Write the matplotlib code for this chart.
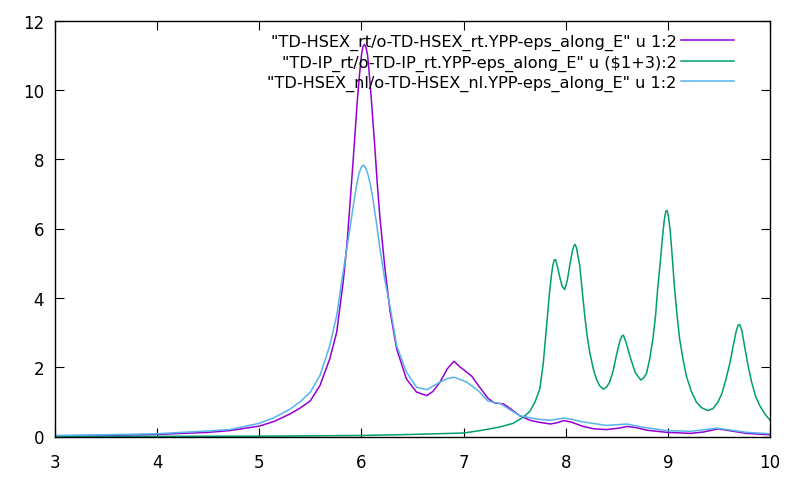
import matplotlib
matplotlib.use("Agg")
import matplotlib.pyplot as plt

# values
hsex_rt_x = [3.0, 3.5, 4.0, 4.5, 4.71, 5.0, 5.15, 5.3, 5.4, 5.5, 5.594, 5.69, 5.758, 5.823, 5.86,
             5.89, 5.915, 5.94, 5.96, 5.98, 6.0, 6.015, 6.03, 6.045, 6.06, 6.07, 6.09, 6.11, 6.13,
             6.155, 6.18, 6.23, 6.28, 6.345, 6.44, 6.54, 6.64, 6.70, 6.77, 6.84, 6.906, 6.96,
             7.03, 7.08, 7.145, 7.24, 7.30, 7.39, 7.46, 7.55, 7.65, 7.72, 7.85, 7.92, 7.98, 8.05,
             8.17, 8.28, 8.40, 8.52, 8.60, 8.68, 8.80, 8.99, 9.22, 9.35, 9.49, 9.60, 9.77, 10.0]
hsex_rt_y = [0.02, 0.03, 0.06, 0.12, 0.17, 0.30, 0.44, 0.65, 0.82, 1.03, 1.47, 2.24, 3.01, 4.5, 5.6,
             6.8, 7.8, 8.85, 9.7, 10.4, 11.0, 11.25, 11.31, 11.22, 11.0, 10.7, 10.0, 9.2, 8.4,
             7.3, 6.35, 4.85, 3.62, 2.53, 1.66, 1.28, 1.18, 1.3, 1.57, 1.95, 2.17, 2.02,
             1.86, 1.74, 1.47, 1.1, 0.97, 0.94, 0.8, 0.6, 0.47, 0.42, 0.36, 0.40, 0.46, 0.42,
             0.29, 0.22, 0.2, 0.24, 0.29, 0.26, 0.18, 0.12, 0.09, 0.13, 0.22, 0.17, 0.09, 0.05]

ip_rt_x = [3.0, 4.0, 5.0, 5.5, 6.0, 6.5, 7.0, 7.16, 7.35, 7.485, 7.58, 7.648, 7.70, 7.746, 7.78,
           7.81, 7.84, 7.86, 7.875, 7.888, 7.9, 7.915, 7.94, 7.965, 7.99, 8.015, 8.04, 8.065,
           8.08, 8.092, 8.105, 8.12, 8.137, 8.16, 8.186, 8.21, 8.235, 8.27, 8.30, 8.33, 8.365,
           8.40, 8.43, 8.465, 8.496, 8.53, 8.55, 8.565, 8.59, 8.626, 8.68, 8.734, 8.76, 8.79,
           8.82, 8.854, 8.88, 8.90, 8.925, 8.946, 8.965, 8.98, 8.993, 9.006, 9.024, 9.045,
           9.066, 9.09, 9.115, 9.15, 9.18, 9.23, 9.28, 9.33, 9.39, 9.44, 9.49, 9.53, 9.57, 9.61,
           9.64, 9.67, 9.69, 9.705, 9.725, 9.75, 9.785, 9.82, 9.86, 9.90, 9.95, 10.0]
ip_rt_y = [0.0, 0.005, 0.01, 0.02, 0.03, 0.06, 0.1, 0.17, 0.27, 0.38, 0.55, 0.72, 1.0, 1.37, 2.1,
           3.1, 4.1, 4.65, 4.95, 5.1, 5.1, 4.95, 4.62, 4.33, 4.24, 4.5, 4.94, 5.35,
           5.5, 5.54, 5.45, 5.2, 4.94, 4.25, 3.49, 2.9, 2.43, 1.95, 1.66, 1.47, 1.37,
           1.42, 1.57, 1.9, 2.34, 2.75, 2.9, 2.92, 2.72, 2.34, 1.85, 1.63, 1.68, 1.81,
           2.2, 2.82, 3.5, 4.26, 5.0, 5.71, 6.25, 6.5, 6.52, 6.35, 5.90, 5.1,
           4.26, 3.5, 2.82, 2.2, 1.76, 1.3, 0.99, 0.83, 0.75, 0.80, 0.99, 1.25, 1.66, 2.15,
           2.62, 3.05, 3.22, 3.22, 3.05, 2.62, 2.05, 1.57, 1.15, 0.89, 0.65, 0.47]

hsex_nl_x = [3.0, 3.5, 4.0, 4.5, 4.71, 5.0, 5.15, 5.3, 5.4, 5.5, 5.594, 5.69, 5.758, 5.806, 5.85,
             5.89, 5.92, 5.95, 5.975, 6.0, 6.02, 6.04, 6.065, 6.085, 6.11, 6.15, 6.18, 6.23, 6.28,
             6.345, 6.44, 6.54, 6.64, 6.70, 6.77, 6.84, 6.906, 6.97, 7.03, 7.145, 7.24, 7.36,
             7.45, 7.55, 7.72, 7.85, 7.98, 8.05, 8.17, 8.40, 8.60, 8.75, 8.99, 9.22, 9.48, 9.65,
             9.77, 10.0]
hsex_nl_y = [0.03, 0.05, 0.08, 0.16, 0.2, 0.38, 0.55, 0.79, 1.0, 1.28, 1.76, 2.62, 3.49, 4.45, 5.3,
             6.05, 6.65, 7.2, 7.58, 7.78, 7.83, 7.76, 7.55, 7.3, 6.9, 6.1, 5.45, 4.5, 3.75,
             2.62, 1.86, 1.42, 1.35, 1.45, 1.57, 1.67, 1.71, 1.64, 1.57, 1.32, 1.02, 0.95,
             0.78, 0.60, 0.50, 0.47, 0.53, 0.50, 0.42, 0.32, 0.36, 0.27, 0.17, 0.15, 0.24, 0.17,
             0.12, 0.08]

labels = ['"TD-HSEX_rt/o-TD-HSEX_rt.YPP-eps_along_E" u 1:2',
          '"TD-IP_rt/o-TD-IP_rt.YPP-eps_along_E" u ($1+3):2',
          '"TD-HSEX_nl/o-TD-HSEX_nl.YPP-eps_along_E" u 1:2']
colors = ['#9400d3', '#009e73', '#56b4e9']

fig = plt.figure(figsize=(8, 4.85), dpi=100)
ax = fig.add_axes([55 / 800, 47.5 / 485, 715 / 800, 416 / 485])

ax.plot(hsex_rt_x, hsex_rt_y, color=colors[0], lw=1.1, label=labels[0])
ax.plot(ip_rt_x, ip_rt_y, color=colors[1], lw=1.1, label=labels[1])
ax.plot(hsex_nl_x, hsex_nl_y, color=colors[2], lw=1.1, label=labels[2])

ax.set_xlim(3, 10)
ax.set_ylim(0, 12)
ax.set_xticks(range(3, 11))
ax.set_yticks(range(0, 13, 2))
ax.tick_params(direction='in', length=6.5, width=0.8, top=True, right=True, labelsize=12)
ax.tick_params(axis='x', pad=12)
ax.tick_params(axis='y', pad=8)
for sp in ax.spines.values():
    sp.set_linewidth(1.0)

ax.legend(loc='upper right', bbox_to_anchor=(734 / 800, 450 / 485), bbox_transform=fig.transFigure,
          frameon=False, markerfirst=False, fontsize=11.6, handlelength=3.3, handletextpad=0.25,
          labelspacing=0.26, borderaxespad=0, borderpad=0)

fig.savefig('out.png', dpi=100)
